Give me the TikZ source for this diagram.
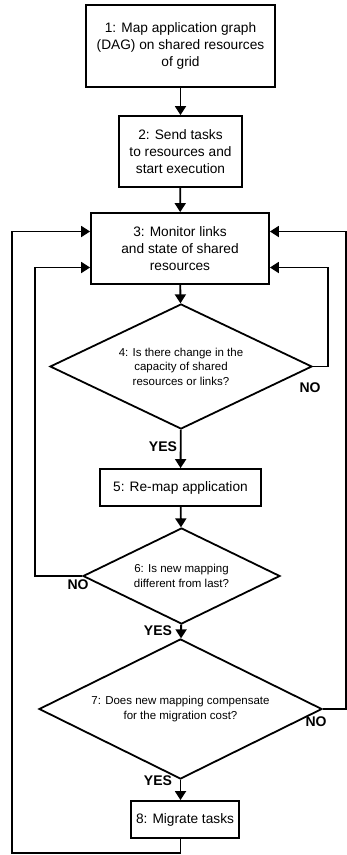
\documentclass[tikz,border=0pt]{standalone}
\usepackage{fontspec}
\setmainfont{Liberation Sans}
\usetikzlibrary{shapes.geometric, arrows.meta, positioning, calc}

\begin{document}
\begin{tikzpicture}[x=1pt, y=-1pt, line width=1.8pt,
  >={Triangle[width=11pt,length=9pt]},
  stepbox/.style={draw, align=center, inner sep=0pt, font=\fontsize{13.7}{17}\selectfont},
  testbox/.style={draw, diamond, aspect=2, inner sep=0pt, align=center, font=\fontsize{11.5}{14.5}\selectfont},
  answer/.style={inner sep=0pt, font=\bfseries\fontsize{14}{14}\selectfont}]
\useasboundingbox (0,0) rectangle (346,855);

% Mapping and start
\node[stepbox, minimum width=189pt, minimum height=82pt] (map) at (180.5,46) {1: Map application graph\\(DAG) on shared resources\\of grid};
\node[stepbox, minimum width=123pt, minimum height=71pt] (send) at (180.5,151.5) {2: Send tasks\\to resources and\\start execution};
\draw[->] (map) -- (send);

% Monitoring
\node[stepbox, minimum width=178pt, minimum height=71pt] (mon) at (180,248.5) {3: Monitor links\\and state of shared\\resources};
\draw[->] (send) -- (mon);

% First test
\node[testbox, minimum width=262pt, minimum height=125pt] (chk) at (181,366.5) {4: Is there change in the\\capacity of shared\\resources or links?};
\draw[->] (mon) -- (chk);
\node[answer] (chkno) at (310,387.5) {NO};
\draw[->] (chk.east) -- ++(15,0) |- ([yshift=-19pt]mon.east);

% Re-mapping
\node[stepbox, minimum width=161pt, minimum height=37pt] (remap) at (180.5,487.5) {5: Re-map application};
\draw[->] (chk) -- (remap);
\node[answer] (chkyes) at (163,447) {YES};

% Second test
\node[testbox, minimum width=197pt, minimum height=96pt] (diff) at (181.5,576) {6: Is new mapping\\different from last?};
\draw[->] (remap) -- (diff);
\node[answer] (diffno) at (78,585) {NO};
\draw[->] (diff.west) -- ++(-47,0) |- ([yshift=-19pt]mon.west);

% Third test
\node[testbox, minimum width=283pt, minimum height=140pt] (cost) at (180.5,709) {7: Does new mapping compensate\\for the migration cost?};
\draw[->] (diff) -- (cost);
\node[answer] (diffyes) at (158,631) {YES};
\node[answer] (costno) at (316,722) {NO};
\draw[->] (cost.east) -- ++(23,0) |- ([yshift=17pt]mon.east);

% Migration
\node[stepbox, minimum width=108pt, minimum height=37pt] (mig) at (185,819.5) {8: Migrate tasks};
\draw[->] (cost.south) -- (cost.south |- mig.north);
\node[answer] (costyes) at (158,781) {YES};
\coordinate (base) at (12,853);
\draw[->] (cost.south |- mig.south) |- (base) |- ([yshift=17pt]mon.west);
\end{tikzpicture}
\end{document}
